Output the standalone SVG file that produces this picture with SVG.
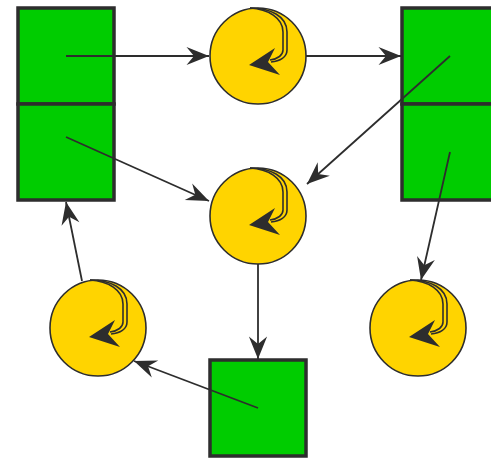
<svg xmlns="http://www.w3.org/2000/svg" xmlns:xlink="http://www.w3.org/1999/xlink" width="491" height="458" viewBox="0 0 491 458">
<style>
.box{fill:#00cc00;stroke:#2d2d2d;stroke-width:3.5}
.circ{fill:#ffd400;stroke:#2d2d2d;stroke-width:1.6}
.edge{fill:none;stroke:#2d2d2d;stroke-width:1.8}
.loop{fill:none;stroke:#2d2d2d;stroke-width:1.6}
.head{fill:#2d2d2d}
</style>
<defs>
<marker id="arr" markerUnits="userSpaceOnUse" markerWidth="30" markerHeight="30" viewBox="-24 -12 28 24" refX="0" refY="0" orient="auto">
<path class="head" d="M0,0 L-21,-8.5 L-14,0 L-21,8.5 Z"/>
</marker>
<g id="self">
<path class="loop" d="M-8,-48 C12,-48 29,-40 29,-24 L29,-6 C29,1 22,5 13,6"/>
<path class="loop" d="M-8,-48 C10,-47 25,-38 25,-24 L25,-6 C25,-1 20,3 12,4"/>
<path class="head" d="M-9,9 L17,-8 L10,6 L22,19 Z"/>
</g>
</defs>
<g id="boxL">
<rect class="box" x="18" y="8" width="96" height="96"/>
<rect class="box" x="18" y="104" width="96" height="96"/>
</g>
<g id="boxR">
<rect class="box" x="402" y="8" width="96" height="96"/>
<rect class="box" x="402" y="104" width="96" height="96"/>
</g>
<g id="boxB">
<rect class="box" x="210" y="360" width="96" height="96"/>
</g>
<g id="circTop">
<circle class="circ" cx="258" cy="56" r="48"/>
<use xlink:href="#self" href="#self" transform="translate(258,56)"/>
</g>
<g id="circMid">
<circle class="circ" cx="258" cy="216" r="48"/>
<use xlink:href="#self" href="#self" transform="translate(258,216)"/>
</g>
<g id="circBL">
<circle class="circ" cx="98" cy="328" r="48"/>
<use xlink:href="#self" href="#self" transform="translate(98,328)"/>
</g>
<g id="circBR">
<circle class="circ" cx="418" cy="328" r="48"/>
<use xlink:href="#self" href="#self" transform="translate(418,328)"/>
</g>
<g id="edges">
<path class="edge" marker-end="url(#arr)" d="M66,56 L209,56"/>
<path class="edge" marker-end="url(#arr)" d="M306,56 L401,56"/>
<path class="edge" marker-end="url(#arr)" d="M450,56 L307,184"/>
<path class="edge" marker-end="url(#arr)" d="M66,137 L209,201"/>
<path class="edge" marker-end="url(#arr)" d="M258,264 L258,359"/>
<path class="edge" marker-end="url(#arr)" d="M450,152 L421,280"/>
<path class="edge" marker-end="url(#arr)" d="M258,408 L134,361"/>
<path class="edge" marker-end="url(#arr)" d="M82,281 L66,202"/>
</g>
</svg>
